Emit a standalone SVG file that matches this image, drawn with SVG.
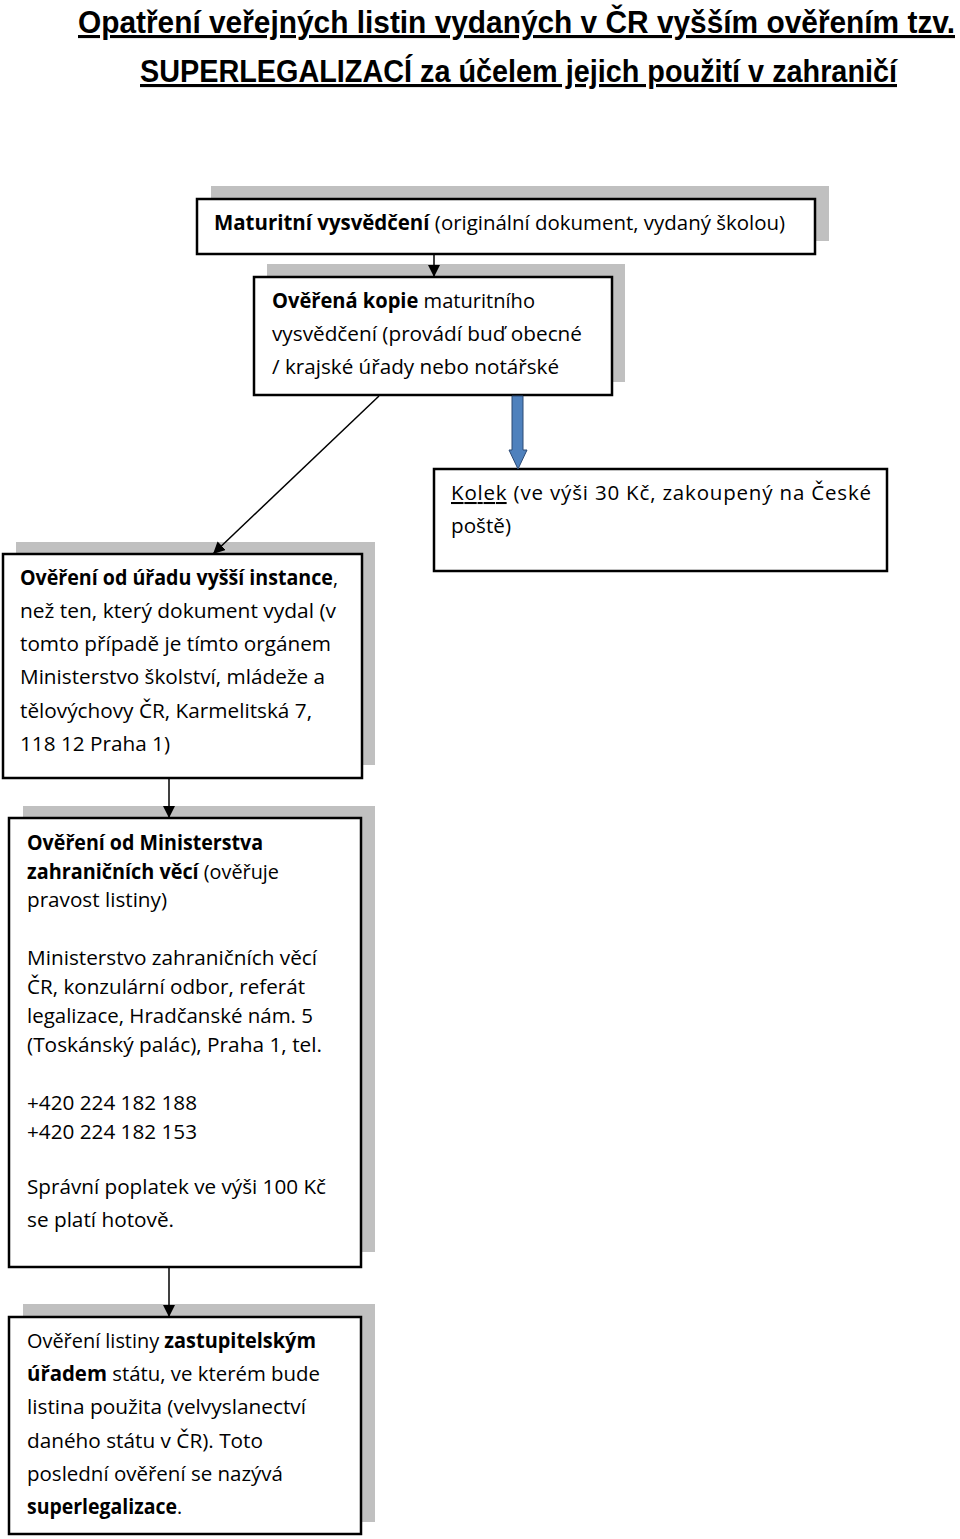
<svg xmlns="http://www.w3.org/2000/svg" width="960" height="1539" viewBox="0 0 960 1539">
<style>
.t{font-family:"Open Sans","Liberation Sans",sans-serif;font-size:20.5px;fill:#000}
.b{font-weight:bold}
.title{font-family:"Liberation Sans Narrow","Liberation Sans",sans-serif;font-weight:bold;font-size:31px;fill:#000;text-decoration:underline}
.box{fill:#fff;stroke:#000;stroke-width:2.5}
.sh{fill:#c0c0c0}
.con{stroke:#000;stroke-width:1.5;fill:none}
</style>
<defs>
<marker id="ah" viewBox="0 0 10 10" markerWidth="12" markerHeight="12" markerUnits="userSpaceOnUse" refX="10" refY="5" orient="auto">
<path d="M0,0 L10,5 L0,10 z" fill="#000"/>
</marker>
</defs>
<rect width="960" height="1539" fill="#fff"/>
<g id="title">
<text class="title" x="78" y="33" textLength="877" lengthAdjust="spacingAndGlyphs">Opatření veřejných  listin vydaných v ČR vyšším ověřením tzv.</text>
<text class="title" x="140" y="82" textLength="757" lengthAdjust="spacingAndGlyphs">SUPERLEGALIZACÍ za účelem jejich použití v zahraničí</text>
</g>
<g id="n1">
<rect class="sh" x="211" y="186" width="618" height="55"/>
<rect class="box" x="197" y="199" width="618" height="55"/>
<text class="t" x="214" y="230" textLength="571" lengthAdjust="spacingAndGlyphs"><tspan class="b">Maturitní vysvědčení</tspan> (originální dokument, vydaný školou)</text>
</g>
<g id="n2">
<rect class="sh" x="267" y="264" width="358" height="118"/>
<rect class="box" x="254" y="277" width="358" height="118"/>
<text class="t" x="272" y="308" textLength="263" lengthAdjust="spacingAndGlyphs"><tspan class="b">Ověřená kopie</tspan> maturitního</text>
<text class="t" x="272" y="341" textLength="310" lengthAdjust="spacingAndGlyphs">vysvědčení (provádí buď obecné</text>
<text class="t" x="272" y="374" textLength="287" lengthAdjust="spacingAndGlyphs">/ krajské úřady nebo notářské</text>
</g>
<g id="n_kolek">
<rect class="box" x="434" y="469" width="453" height="102"/>
<text class="t" x="451" y="500" textLength="420" lengthAdjust="spacing"><tspan text-decoration="underline">Kolek</tspan> (ve výši 30 Kč, zakoupený na České</text>
<text class="t" x="451" y="533" textLength="60" lengthAdjust="spacingAndGlyphs">poště)</text>
</g>
<g id="n3">
<rect class="sh" x="16" y="542" width="359" height="223"/>
<rect class="box" x="3" y="554" width="359" height="224"/>
<text class="t" x="20" y="585" textLength="318" lengthAdjust="spacingAndGlyphs"><tspan class="b">Ověření od úřadu vyšší instance</tspan>,</text>
<text class="t" x="20" y="618" textLength="316" lengthAdjust="spacingAndGlyphs">než ten, který dokument vydal (v</text>
<text class="t" x="20" y="651" textLength="311" lengthAdjust="spacingAndGlyphs">tomto případě je tímto orgánem</text>
<text class="t" x="20" y="684" textLength="305" lengthAdjust="spacingAndGlyphs">Ministerstvo školství, mládeže a</text>
<text class="t" x="20" y="718" textLength="292" lengthAdjust="spacingAndGlyphs">tělovýchovy ČR, Karmelitská 7,</text>
<text class="t" x="20" y="751" textLength="150" lengthAdjust="spacingAndGlyphs">118 12 Praha 1)</text>
</g>
<g id="n4">
<rect class="sh" x="23" y="806" width="352" height="446"/>
<rect class="box" x="9" y="818" width="352" height="449"/>
<text class="t" x="27" y="850" textLength="236" lengthAdjust="spacingAndGlyphs"><tspan class="b">Ověření od Ministerstva</tspan></text>
<text class="t" x="27" y="879" textLength="252" lengthAdjust="spacingAndGlyphs"><tspan class="b">zahraničních věcí</tspan> (ověřuje</text>
<text class="t" x="27" y="907" textLength="140" lengthAdjust="spacingAndGlyphs">pravost listiny)</text>
<text class="t" x="27" y="965" textLength="290" lengthAdjust="spacingAndGlyphs">Ministerstvo zahraničních věcí</text>
<text class="t" x="27" y="994" textLength="278" lengthAdjust="spacingAndGlyphs">ČR, konzulární odbor, referát</text>
<text class="t" x="27" y="1023" textLength="286" lengthAdjust="spacingAndGlyphs">legalizace, Hradčanské nám. 5</text>
<text class="t" x="27" y="1052" textLength="295" lengthAdjust="spacingAndGlyphs">(Toskánský palác), Praha 1, tel.</text>
<text class="t" x="27" y="1110" textLength="170" lengthAdjust="spacingAndGlyphs">+420 224 182 188</text>
<text class="t" x="27" y="1139" textLength="170" lengthAdjust="spacingAndGlyphs">+420 224 182 153</text>
<text class="t" x="27" y="1194" textLength="299" lengthAdjust="spacingAndGlyphs">Správní poplatek ve výši 100 Kč</text>
<text class="t" x="27" y="1227" textLength="147" lengthAdjust="spacingAndGlyphs">se platí hotově.</text>
</g>
<g id="n5">
<rect class="sh" x="23" y="1304" width="352" height="218"/>
<rect class="box" x="9" y="1317" width="352" height="217"/>
<text class="t" x="27" y="1348" textLength="289" lengthAdjust="spacingAndGlyphs">Ověření listiny <tspan class="b">zastupitelským</tspan></text>
<text class="t" x="27" y="1381" textLength="293" lengthAdjust="spacingAndGlyphs"><tspan class="b">úřadem</tspan> státu, ve kterém bude</text>
<text class="t" x="27" y="1414" textLength="279" lengthAdjust="spacingAndGlyphs">listina použita (velvyslanectví</text>
<text class="t" x="27" y="1448" textLength="236" lengthAdjust="spacingAndGlyphs">daného státu v ČR). Toto</text>
<text class="t" x="27" y="1481" textLength="256" lengthAdjust="spacingAndGlyphs">poslední ověření se nazývá</text>
<text class="t" x="27" y="1514" textLength="155" lengthAdjust="spacingAndGlyphs"><tspan class="b">superlegalizace</tspan>.</text>
</g>
<g id="connectors">
<line class="con" x1="434" y1="255" x2="434" y2="277" marker-end="url(#ah)"/>
<line class="con" x1="379" y1="396" x2="213" y2="554" marker-end="url(#ah)"/>
<path d="M512,396 L523,396 L523,450 L527,450 L518,469 L509,450 L512,450 Z" fill="#4f81bd" stroke="#2c4a75" stroke-width="1"/>
<line class="con" x1="169" y1="779" x2="169" y2="818" marker-end="url(#ah)"/>
<line class="con" x1="169" y1="1268" x2="169" y2="1317" marker-end="url(#ah)"/>
</g>
</svg>
